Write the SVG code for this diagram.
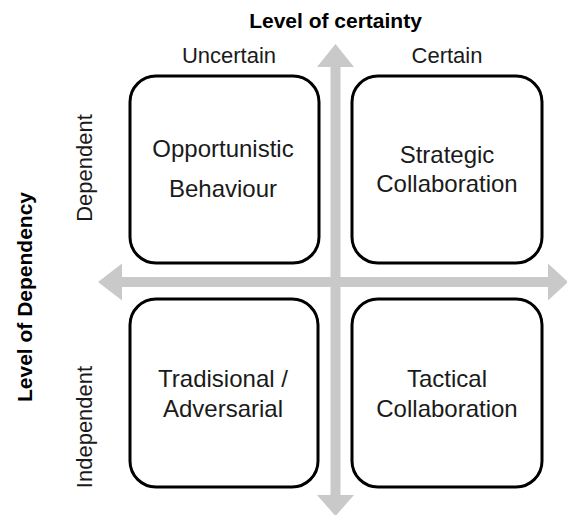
<svg xmlns="http://www.w3.org/2000/svg" width="567" height="515" viewBox="0 0 567 515">
<style>
.box{fill:#ffffff;stroke:#000000;stroke-width:3}
.arrow{fill:#c9c9c9;stroke:none}
.t{font-family:"Liberation Sans",Arial,sans-serif;fill:#1a1a1a;text-anchor:middle}
.in{font-size:24px}
.lab{font-size:22px}
.hd{font-size:21px;font-weight:bold;fill:#000000}
</style>
<rect width="567" height="515" fill="#ffffff"/>
<g id="connectors">
<polygon class="arrow" points="335.5,44 354,67 340.5,67 340.5,495 354,495 335.5,516 317,495 330.5,495 330.5,67 317,67"/>
<polygon class="arrow" points="98,282 122,263.5 122,277 548,277 548,263.5 568,282 548,300.5 548,287 122,287 122,300.5"/>
</g>
<g id="axis-labels">
<text class="t hd" x="335.5" y="28">Level of certainty</text>
<text class="t lab" x="229" y="63">Uncertain</text>
<text class="t lab" x="447" y="63">Certain</text>
<text class="t hd" transform="translate(32,297) rotate(-90)" x="0" y="0">Level of Dependency</text>
<text class="t lab" transform="translate(92,168) rotate(-90)" x="0" y="0">Dependent</text>
<text class="t lab" transform="translate(92,427) rotate(-90)" x="0" y="0">Independent</text>
</g>
<g id="opportunistic">
<rect class="box" x="130" y="76" width="189" height="187" rx="26" ry="26"/>
<text class="t in" x="223" y="157">Opportunistic</text>
<text class="t in" x="223" y="197">Behaviour</text>
</g>
<g id="strategic">
<rect class="box" x="352" y="76" width="190" height="187" rx="26" ry="26"/>
<text class="t in" x="447" y="163">Strategic</text>
<text class="t in" x="447" y="192">Collaboration</text>
</g>
<g id="traditional">
<rect class="box" x="130" y="299" width="188" height="188" rx="26" ry="26"/>
<text class="t in" x="223" y="387">Tradisional /</text>
<text class="t in" x="223" y="417">Adversarial</text>
</g>
<g id="tactical">
<rect class="box" x="352" y="299" width="190" height="188" rx="26" ry="26"/>
<text class="t in" x="447" y="387">Tactical</text>
<text class="t in" x="447" y="417">Collaboration</text>
</g>
</svg>
